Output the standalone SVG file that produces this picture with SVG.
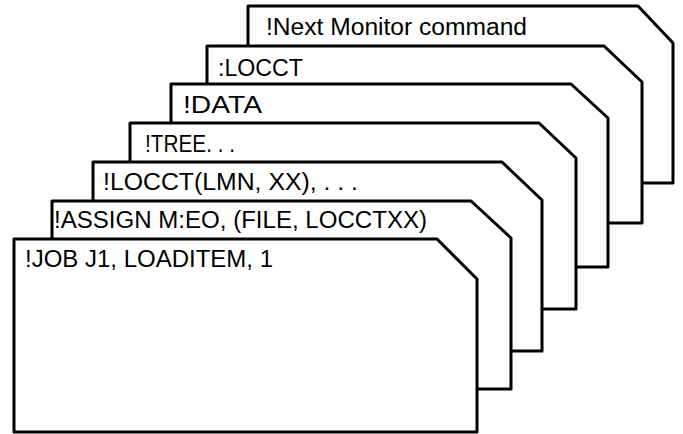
<svg xmlns="http://www.w3.org/2000/svg" width="683" height="434" viewBox="0 0 683 434">
<style>
.card{fill:#fff;stroke:#000;stroke-width:3;stroke-linejoin:round}
.t{font-family:"Liberation Sans",Arial,sans-serif;font-size:23px;fill:#000}
</style>
<rect width="683" height="434" fill="#fff"/>
<g id="card-next">
<path class="card" d="M248,183 V6 H638 L673,43 V183 Z"/>
<text class="t" x="266" y="35" textLength="261" lengthAdjust="spacingAndGlyphs">!Next Monitor command</text>
</g>
<g id="card-locct-colon">
<path class="card" d="M207,223 V46 H604 L642,82 V223 Z"/>
<text class="t" x="218" y="76" textLength="85" lengthAdjust="spacingAndGlyphs">:LOCCT</text>
</g>
<g id="card-data">
<path class="card" d="M171,267 V84 H571 L608,118 V267 Z"/>
<text class="t" x="183" y="113" textLength="79" lengthAdjust="spacingAndGlyphs">!DATA</text>
</g>
<g id="card-tree">
<path class="card" d="M130,309 V123 H539 L576,158 V309 Z"/>
<text class="t" x="145" y="152" textLength="90" lengthAdjust="spacingAndGlyphs">!TREE. . .</text>
</g>
<g id="card-locct">
<path class="card" d="M93,351 V162 H502 L542,200 V351 Z"/>
<text class="t" x="103" y="190" textLength="255" lengthAdjust="spacingAndGlyphs">!LOCCT(LMN, XX), . . .</text>
</g>
<g id="card-assign">
<path class="card" d="M52,389 V201 H471 L511,238 V389 Z"/>
<text class="t" x="54" y="228" textLength="373" lengthAdjust="spacingAndGlyphs">!ASSIGN M:EO, (FILE, LOCCTXX)</text>
</g>
<g id="card-job">
<path class="card" d="M14,432 V239 H437 L477,279 V432 Z"/>
<text class="t" x="25" y="267" textLength="248" lengthAdjust="spacingAndGlyphs">!JOB J1, LOADITEM, 1</text>
</g>
<g id="connectors"/>
</svg>
